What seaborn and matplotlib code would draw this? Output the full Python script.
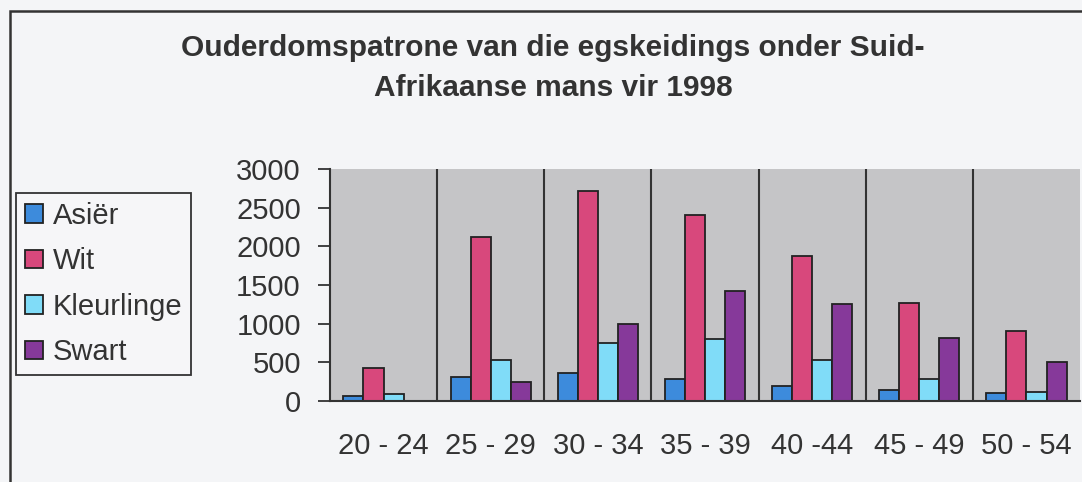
""" Ouderdomspatrone van egskeidings (mans, 1998) - Excel style grouped bars """

import pandas as pd
import matplotlib
matplotlib.use("Agg")
import matplotlib.pyplot as plt
from matplotlib.patches import Rectangle
import seaborn as sns


# data
groups = ["20 - 24", "25 - 29", "30 - 34", "35 - 39", "40 -44", "45 - 49", "50 - 54"]
series = ["Asiër", "Wit", "Kleurlinge", "Swart"]
asier = [70, 310, 360, 290, 200, 140, 100]
wit = [430, 2120, 2710, 2400, 1880, 1270, 910]
kleurlinge = [90, 530, 750, 800, 530, 290, 120]
swart = [0, 240, 1000, 1420, 1250, 810, 500]
yticks = [0, 500, 1000, 1500, 2000, 2500, 3000]

colors = ["#3d8bdc", "#d8487c", "#80dcf8", "#86399a"]
title = "Ouderdomspatrone van die egskeidings onder Suid-\nAfrikaanse mans vir 1998"

# long form for seaborn
rows = []
for name, vals in zip(series, [asier, wit, kleurlinge, swart]):
    for g, v in zip(groups, vals):
        rows.append({"groep": g, "aantal": v, "bevolking": name})
df = pd.DataFrame(rows)

sns.set_theme(style="white")
plt.rcParams["font.family"] = ["Liberation Sans", "DejaVu Sans"]

W, H = 1082, 482
fig = plt.figure(figsize=(W / 100, H / 100), dpi=100)
fig.patch.set_facecolor("#f4f5f7")

ax = fig.add_axes([330 / W, 1 - 401 / H, 750 / W, 232 / H])
ax.set_facecolor("#c5c5c7")

sns.barplot(data=df, x="groep", y="aantal", hue="bevolking", order=groups,
            hue_order=series, palette=colors, saturation=1, width=0.75,
            edgecolor="#222222", linewidth=1.3, ax=ax)

ax.set_xlim(-0.5, len(groups) - 0.5)
ax.set_ylim(0, 3000)
ax.set_yticks(yticks)
ax.set_xlabel("")
ax.set_ylabel("")

# category separators like the old Excel chart
for b in range(1, len(groups)):
    ax.axvline(b - 0.5, color="#333333", lw=1.5, zorder=0.5)
ax.set_xticks([b - 0.5 for b in range(len(groups) + 1)], minor=True)
ax.tick_params(axis="x", which="minor", length=9, width=1.3, color="#333333", direction="out")
ax.tick_params(axis="x", which="major", length=0, pad=22, labelsize=21, labelcolor="#333333")
ax.tick_params(axis="y", length=9, width=1.3, color="#333333", direction="out",
               left=True, pad=12, labelsize=21, labelcolor="#333333")

for s in ["top", "right"]:
    ax.spines[s].set_visible(False)
for s in ["left", "bottom"]:
    ax.spines[s].set_color("#333333")
    ax.spines[s].set_linewidth(1.5)

# legend on the left
handles, labels = ax.get_legend_handles_labels()
ax.get_legend().remove()
leg = fig.legend(handles, labels, loc="upper left",
                 bbox_to_anchor=(16 / W, 1 - 193 / H), bbox_transform=fig.transFigure,
                 borderaxespad=0, fancybox=False, framealpha=1, facecolor="#f6f6f8",
                 edgecolor="#333333", fontsize=21, handlelength=0.62, handleheight=0.62,
                 handletextpad=0.35, labelspacing=0.6, borderpad=0.3)
leg.get_frame().set_linewidth(1.3)
for t in leg.get_texts():
    t.set_color("#333333")

# title
fig.text(553 / W, 1 - 68 / H, title, ha="center", va="center", fontsize=21.5,
         fontweight="bold", color="#333333", linespacing=1.5)

# chart area border (runs off the right and bottom edges)
fig.patches.append(Rectangle((10 / W, -0.1), 1.2, 1.1 - 11 / H, transform=fig.transFigure,
                             fill=False, edgecolor="#333333", lw=1.8))

fig.savefig("out.png", dpi=100, facecolor=fig.get_facecolor())
